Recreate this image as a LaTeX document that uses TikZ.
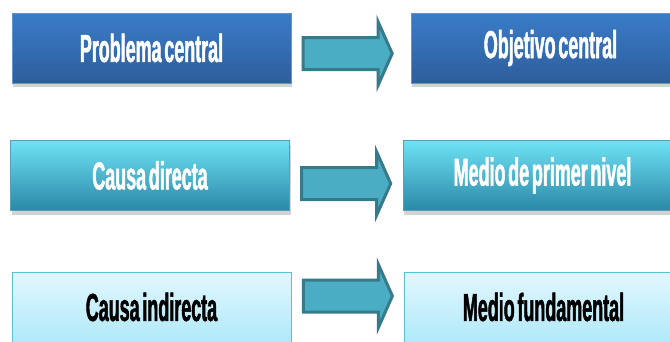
\documentclass[tikz,border=0pt]{standalone}
\usepackage{fontspec}
\newfontfamily\boxfont{Liberation Sans}[FakeStretch=0.46, WordSpace=0.55, FakeBold=1.2]
\usetikzlibrary{calc,shadows}

\definecolor{darkblue}{HTML}{3A7CC8}
\definecolor{darkblueb}{HTML}{2E5D9C}
\definecolor{cyantop}{HTML}{6EE2F4}
\definecolor{cyanmid}{HTML}{36B4D8}
\definecolor{cyanbot}{HTML}{2A88A8}
\definecolor{palet}{HTML}{E2F7FE}
\definecolor{paleb}{HTML}{B0E9F9}
\definecolor{paleline}{HTML}{5EBFDA}
\definecolor{arrowfill}{HTML}{4AADC3}
\definecolor{arrowline}{HTML}{377A89}

\def\boxw{279pt}
\def\boxh{70pt}

\begin{document}
\begin{tikzpicture}[x=1pt, y=-1pt,
    box/.style={rectangle, minimum width=\boxw, minimum height=\boxh, inner sep=0pt,
        font=\boxfont\bfseries\fontsize{39}{42}\selectfont},
    level1/.style={box, top color=darkblue, bottom color=darkblueb, draw=darkblue!80!white,
        text=white, drop shadow={shadow xshift=1pt, shadow yshift=-4pt, opacity=0.35}},
    level2/.style={box, top color=cyantop, middle color=cyanmid, bottom color=cyanbot,
        draw=cyanbot!80!white, text=white,
        drop shadow={shadow xshift=1pt, shadow yshift=-4pt, opacity=0.35}},
    level3/.style={box, top color=palet, bottom color=paleb, draw=paleline, line width=0.8pt, text=black},
    blockarrow/.style={fill=arrowfill, draw=arrowline, line width=3pt, line join=miter}]
    \useasboundingbox (0,0) rectangle (670,341);

    % problem side
    \node[level1] (pc) at (151.5,48) {Problema central};
    \node[level2] (cd) at (150,175.5) {Causa directa};
    \node[level3] (ci) at (151.5,307) {Causa indirecta};

    % objective side
    \node[level1] (oc) at (550.5,48) {Objetivo central};
    \node[level2] (mp) at (542.5,175.5) {Medio de primer nivel};
    \node[level3] (mf) at (543.5,307) {Medio fundamental};

    \foreach \a/\dy in {pc/5.5, cd/8, ci/-11}
        \draw[blockarrow] ($(\a.east)+(12,\dy-16)$) -- ++(75,0) -- ++(0,-15.5) -- ++(14,31.5)
            -- ++(-14,31.5) -- ++(0,-15.5) -- ++(-75,0) -- cycle;
\end{tikzpicture}
\end{document}
